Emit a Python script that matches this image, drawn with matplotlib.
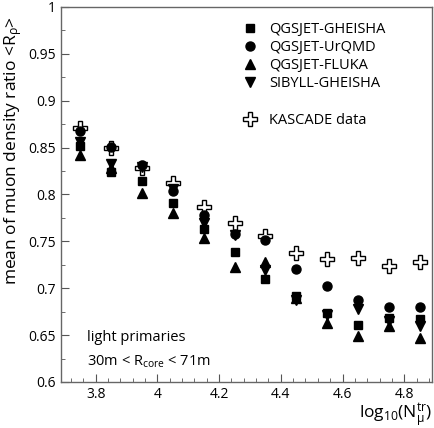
import matplotlib.pyplot as plt
from matplotlib.lines import Line2D
from matplotlib.ticker import MultipleLocator

plt.rcParams['font.family'] = ['Open Sans', 'DejaVu Sans']
plt.rcParams['mathtext.fontset'] = 'custom'
plt.rcParams['mathtext.rm'] = 'Open Sans'
plt.rcParams['mathtext.it'] = 'Open Sans'

# log10(N_mu^tr) bin centres
lgN = [3.75, 3.85, 3.95, 4.05, 4.15, 4.25, 4.35, 4.45, 4.55, 4.65, 4.75, 4.85]

qgs_gheisha = [0.852, 0.824, 0.814, 0.791, 0.763, 0.739, 0.710, 0.692, 0.674, 0.661, 0.668, 0.667]
qgs_urqmd = [0.868, 0.851, 0.831, 0.804, 0.778, 0.758, 0.751, 0.720, 0.702, 0.687, 0.680, 0.680]
qgs_fluka = [0.842, 0.828, 0.802, 0.780, 0.753, 0.723, 0.728, 0.690, 0.663, 0.649, 0.660, 0.647]
sib_gheisha = [0.856, 0.832, 0.829, 0.806, 0.770, 0.757, 0.719, 0.687, 0.671, 0.678, 0.665, 0.660]
kascade = [0.871, 0.849, 0.828, 0.812, 0.787, 0.769, 0.756, 0.738, 0.731, 0.732, 0.724, 0.728]

fig = plt.figure(figsize=(4.35, 4.28), dpi=100)
ax = fig.add_axes([0.140, 0.1075, 0.853, 0.8765])

ax.plot(lgN, kascade, ls='none', marker='P', ms=9.5, mfc='white', mec='black', mew=1.0, zorder=2)
ax.plot(lgN, qgs_fluka, ls='none', marker='^', ms=6.5, color='black', zorder=3)
ax.plot(lgN, qgs_gheisha, ls='none', marker='s', ms=6, color='black', zorder=3)
ax.plot(lgN, sib_gheisha, ls='none', marker='v', ms=6.5, color='black', zorder=3)
ax.plot(lgN, qgs_urqmd, ls='none', marker='o', ms=6.5, color='black', zorder=4)

ax.set_xlim(3.687, 4.89)
ax.set_ylim(0.6, 1.0)
ax.xaxis.set_minor_locator(MultipleLocator(0.04))
ax.yaxis.set_minor_locator(MultipleLocator(0.025))
ax.set_xticks([3.8, 4.0, 4.2, 4.4, 4.6, 4.8])
ax.set_xticklabels(['3.8', '4', '4.2', '4.4', '4.6', '4.8'])
ax.set_yticks([0.6, 0.65, 0.7, 0.75, 0.8, 0.85, 0.9, 0.95, 1.0])
ax.set_yticklabels(['0.6', '0.65', '0.7', '0.75', '0.8', '0.85', '0.9', '0.95', '1'])
ax.tick_params(which='both', direction='in', top=False, right=False, labelsize=10, color='#555555')
ax.tick_params(which='major', length=6)
ax.tick_params(which='minor', length=3)
for s in ax.spines.values():
    s.set_color('#666666')
    s.set_linewidth(1.0)

ax.set_ylabel(r'mean of muon density ratio <R$_\rho$>', fontsize=12.5, loc='top')
ax.yaxis.set_label_coords(-0.10, 0.975)
ax.set_xlabel(r'log$_{10}$(N$_{\mu}^{\rm tr}$)', fontsize=12.5, loc='right', labelpad=0)

ax.text(0.07, 0.11, 'light primaries', transform=ax.transAxes, fontsize=10.5)
ax.text(0.07, 0.045, r'30m < R$_{\rm core}$ < 71m', transform=ax.transAxes, fontsize=10.5)

handles = [
    Line2D([], [], ls='none', marker='s', ms=6, color='black'),
    Line2D([], [], ls='none', marker='o', ms=6.5, color='black'),
    Line2D([], [], ls='none', marker='^', ms=6.5, color='black'),
    Line2D([], [], ls='none', marker='v', ms=6.5, color='black'),
    Line2D([], [], ls='none'),
    Line2D([], [], ls='none', marker='P', ms=9.5, mfc='white', mec='black', mew=1.0),
]
labels = ['QGSJET-GHEISHA', 'QGSJET-UrQMD', 'QGSJET-FLUKA', 'SIBYLL-GHEISHA', '', 'KASCADE data']
ax.legend(handles, labels, loc='upper left', bbox_to_anchor=(0.47, 0.98), frameon=False,
          fontsize=10.5, handlelength=1.0, handletextpad=0.8, labelspacing=0.22, borderpad=0)

fig.savefig('out.png', dpi=100)
